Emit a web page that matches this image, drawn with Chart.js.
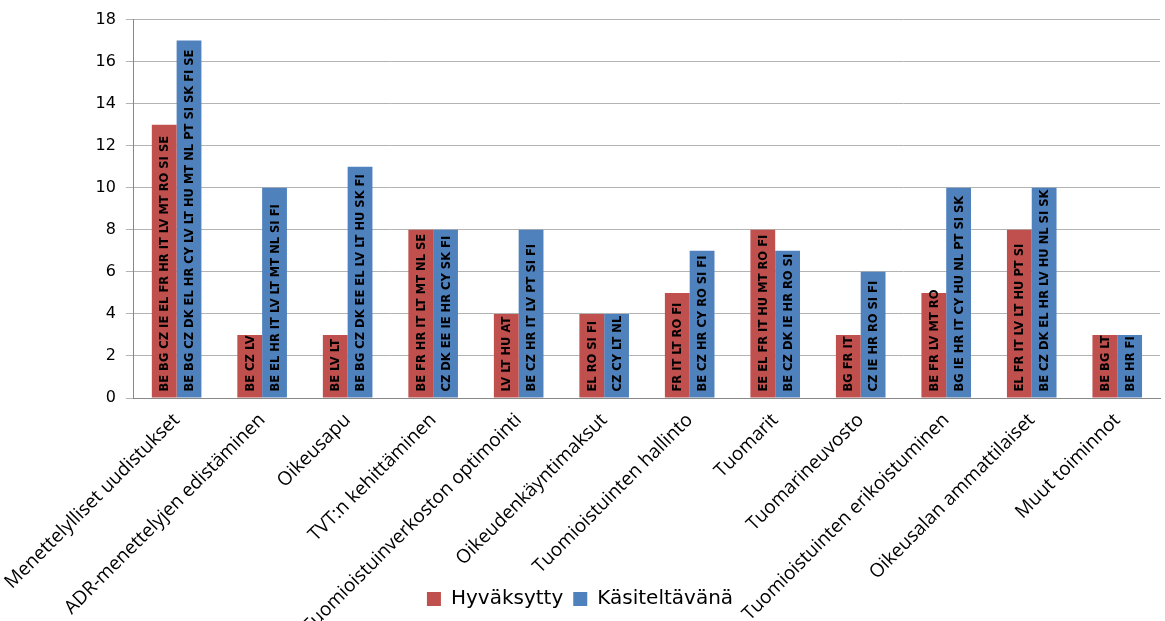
<!DOCTYPE html>
<html><head><meta charset="utf-8">
<script src="https://cdn.jsdelivr.net/npm/chart.js@4/dist/chart.umd.min.js"></script>
<style>html,body{margin:0;padding:0;background:#fff}#wrap{width:1165px;height:621px}</style>
</head><body><div id="wrap"><canvas id="c" width="1165" height="621"></canvas></div>
<script>
const categories = ["Menettelylliset uudistukset","ADR-menettelyjen edistäminen","Oikeusapu","TVT:n kehittäminen","Tuomioistuinverkoston optimointi","Oikeudenkäyntimaksut","Tuomioistuinten hallinto","Tuomarit","Tuomarineuvosto","Tuomioistuinten erikoistuminen","Oikeusalan ammattilaiset","Muut toiminnot"];
const adopted = [13,3,3,8,4,4,5,8,3,5,8,3];
const pending = [17,10,11,8,8,4,7,7,6,10,10,3];
const adoptedCountries = ["BE BG CZ IE EL FR HR IT LV MT RO SI SE","BE CZ LV","BE LV LT","BE FR HR IT LT MT NL SE","LV LT HU AT","EL RO SI FI","FR IT LT RO FI","EE EL FR IT HU MT RO FI","BG FR IT","BE FR LV MT RO","EL FR IT LV LT HU PT SI","BE BG LT"];
const pendingCountries = ["BE BG CZ DK EL HR CY LV LT HU MT NL PT SI SK FI SE","BE EL HR IT LV LT MT NL SI FI","BE BG CZ DK EE EL LV LT HU SK FI","CZ DK EE IE HR CY SK FI","BE CZ HR IT LV PT SI FI","CZ CY LT NL","BE CZ HR CY RO SI FI","BE CZ DK IE HR RO SI","CZ IE HR RO SI FI","BG IE HR IT CY HU NL PT SI SK","BE CZ DK EL HR LV HU NL SI SK","BE HR FI"];
const seriesNames = ["Hyväksytty","Käsiteltävänä"];
const yTicks = [0,2,4,6,8,10,12,14,16,18];

const barText = {
  id:'barText',
  afterDatasetsDraw(chart){
    const ctx = chart.ctx;
    const lists = [adoptedCountries, pendingCountries];
    ctx.save();
    ctx.font = 'bold 11.5px "DejaVu Sans", sans-serif';
    ctx.fillStyle = '#000';
    ctx.textBaseline = 'middle';
    ctx.textAlign = 'left';
    chart.data.datasets.forEach((ds,di)=>{
      chart.getDatasetMeta(di).data.forEach((bar,i)=>{
        ctx.save();
        ctx.translate(bar.x+1, bar.base-6);
        ctx.rotate(-Math.PI/2);
        ctx.fillText(lists[di][i],0,0);
        ctx.restore();
      });
    });
    ctx.restore();
  }
};

new Chart(document.getElementById('c'),{
  type:'bar',
  data:{labels:categories,datasets:[
    {label:seriesNames[0],data:adopted,backgroundColor:'#C0504D',borderWidth:0,categoryPercentage:0.58,barPercentage:1},
    {label:seriesNames[1],data:pending,backgroundColor:'#4F81BD',borderWidth:0,categoryPercentage:0.58,barPercentage:1}
  ]},
  options:{
    responsive:false,animation:false,
    layout:{padding:{left:0,right:5,top:2,bottom:2}},
    plugins:{
      legend:{position:'bottom',labels:{font:{size:20,family:'"DejaVu Sans", sans-serif'},color:'#000',boxWidth:14,boxHeight:14,padding:10}},
      tooltip:{enabled:false}
    },
    scales:{
      x:{grid:{display:false},border:{color:'#888'},
         afterFit(s){s.height=181; s._computeLabelArea=()=>undefined;},
         ticks:{maxRotation:45,minRotation:45,autoSkip:false,color:'#000',font:{size:19,family:'"Open Sans", sans-serif'}}},
      y:{min:0,max:18,afterBuildTicks(s){s.ticks=yTicks.map(v=>({value:v}));},
         afterFit(s){s.width=126;},
         grid:{color:'#b3b3b3'},border:{color:'#888'},
         ticks:{color:'#000',font:{size:16,family:'"DejaVu Sans", sans-serif'},padding:10}}
    }
  },
  plugins:[barText]
});
</script></body></html>
